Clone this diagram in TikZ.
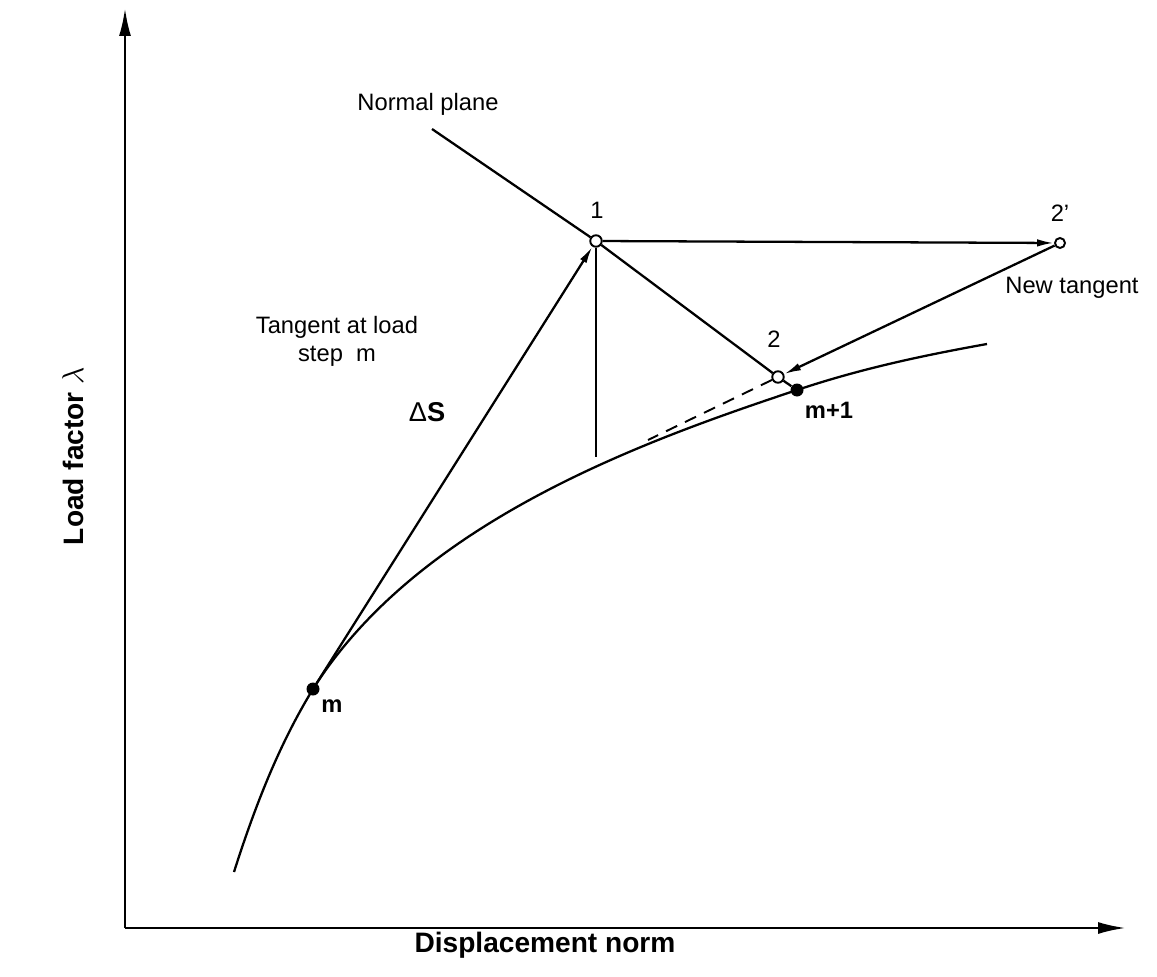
\documentclass[tikz,border=0pt]{standalone}
\usepackage{fontspec}
\setmainfont{Liberation Sans}
\usepackage{tikz}
\usetikzlibrary{positioning, arrows.meta}

\begin{document}
\begin{tikzpicture}[
    x=0.02cm, y=-0.02cm,
    node distance=4pt,
    axis/.style={line width=1.5pt, -{Latex[length=5.6mm, width=2.4mm]}},
    path/.style={line width=1.3pt},
    move/.style={line width=1.3pt, -{Latex[length=3.4mm, width=1.5mm]}},
    open/.style={circle, draw, line width=1.1pt, inner sep=0pt, minimum size=2.3mm},
    dot/.style={circle, fill, inner sep=0pt, minimum size=2.6mm},
    lbl/.style={font=\fontsize{13.5}{16}\selectfont, align=center},
    blbl/.style={font=\bfseries\fontsize{13.5}{16}\selectfont},
    axlbl/.style={font=\bfseries\fontsize{16}{19}\selectfont}
]

\useasboundingbox (0,0) rectangle (1157,977);

% axes
\coordinate (origin) at (125,928);
\coordinate (ytip) at (125,8);
\coordinate (xtip) at (1126,928);
\draw[axis] (origin) -- (ytip);
\draw[axis] (origin) -- (xtip);

% points on the path
\node[dot] (ptm) at (313,689) {};
\node[dot] (ptm1) at (797,390) {};
\node[open] (pt1) at (596,241) {};
\node[open] (pt2) at (778,377) {};
\node[open, minimum size=2mm] (pt2p) at (1060,243) {};

\coordinate (cstart) at (234,872);
\coordinate (cend) at (987,344);
\coordinate (npstart) at (432,129);
\coordinate (vfoot) at (596,457);
\coordinate (dashend) at (648,440);

% equilibrium path
\draw[path] (cstart) .. controls (260,790) and (285,735) .. (ptm.center)
    .. controls (420,520) and (647,440) .. (ptm1.center)
    .. controls (860,369) and (920,356) .. (cend);

% normal plane
\draw[path] (npstart) -- (pt1);
\draw[path] (pt1) -- (pt2);
\draw[path] (pt2) -- (ptm1);
\draw[path] (pt1) -- (vfoot);
\draw[line width=1.1pt, dash pattern=on 7pt off 5pt] (pt2) -- (dashend);

% predictor steps
\draw[move] (ptm) -- (pt1);
\draw[move] (pt1) -- (pt2p);
\draw[move] (pt2p) -- (pt2);

% labels
\node[lbl] (lnp) at (428,104) {Normal plane};
\node[lbl] (l1) at (597,210) {1};
\node[lbl] (l2p) at (1060,213) {2'};
\node[lbl] (lnew) at (1072,288) {New tangent};
\node[lbl] (l2) at (774,339) {2};
\node[lbl] (ltan) at (337,341) {Tangent at load\\step\ \ m};
\node[blbl, font=\bfseries\fontsize{15.5}{18}\selectfont] (lds) at (427,412) {{\mdseries Δ}S};
\node[blbl] (lm1) at (829,410) {m+1};
\node[blbl] (lm) at (332,706) {m};
\node[axlbl, rotate=90] (ly) at (73,456) {Load factor $\lambda$};
\node[axlbl] (lx) at (545,945) {Displacement norm};

\end{tikzpicture}
\end{document}
